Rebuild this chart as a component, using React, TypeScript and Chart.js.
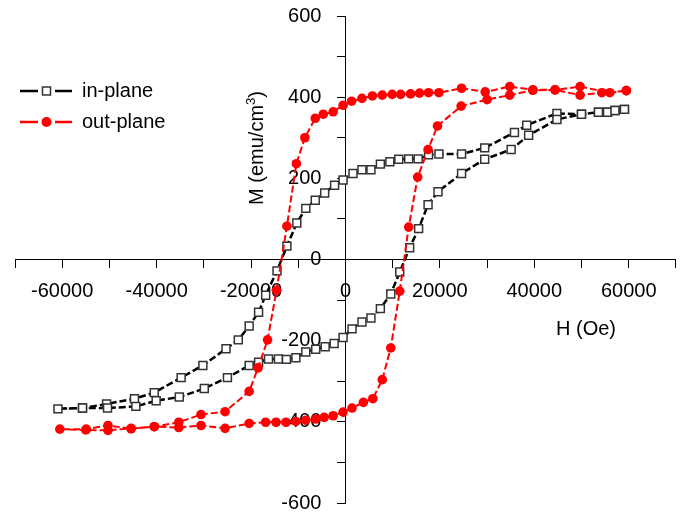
import React, { useEffect, useRef } from 'react';
import { Chart, registerables } from 'chart.js';

Chart.register(...registerables);

const FONT = "'Liberation Sans', Arial, Helvetica, sans-serif";

// Axis settings
const xMin = -70000;
const xMax = 70000;
const xStep = 10000;
const xLabelEvery = 20000;
const yMin = -600;
const yMax = 600;
const yStep = 100;
const yLabelEvery = 200;
// H value where the M tick labels are right-aligned (a little left of the M axis)
const yLabelAnchorH = -5100;

const xTitle = 'H (Oe)';
const yTitleMain = 'M (emu/cm';
const yTitleSup = '3';
const yTitleEnd = ')';

const seriesNames = ['in-plane', 'out-plane'];

// in-plane: descending branch (+H -> -H) then ascending branch (-H -> +H)
const inPlaneH = [
  59100, 57100, 55500, 53600, 50000, 44800, 38400, 35800, 29500, 24600,
  19800, 17600, 15400, 13400, 11300, 9400, 7400, 5400, 3500, 1600,
  -500, -2300, -4400, -6400, -8400, -10300, -12400, -14500, -16900, -18400,
  -20400, -22700, -25300, -30200, -34800, -40500, -44700, -50600, -55700, -60900,
  -55700, -50400, -44400, -40100, -35200, -29900, -25000, -20400, -18400, -16300,
  -14200, -12500, -10500, -8400, -6300, -4300, -2400, -500, 1400, 3500,
  5400, 7400, 9600, 11500, 13600, 15500, 17500, 19600, 24600, 29500,
  35100, 38800, 44800, 50000, 53600, 55500, 57100, 59100,
];
const inPlaneM = [
  370, 367, 363, 363, 358, 360, 331, 313, 275, 260,
  260, 258, 248, 248, 247, 241, 235, 221, 221, 212,
  196, 183, 164, 146, 126, 90, 33, -28, -88, -130,
  -164, -198, -220, -261, -291, -328, -343, -356, -366, -368,
  -366, -366, -362, -348, -339, -318, -291, -261, -253, -245,
  -245, -246, -242, -228, -221, -215, -207, -192, -171, -154,
  -144, -121, -85, -31, 29, 76, 135, 167, 212, 247,
  271, 306, 345, 358, 363, 363, 367, 370,
];

// out-plane: descending branch then ascending branch
const outPlaneH = [
  59500, 56000, 49700, 44400, 39700, 34800, 29600, 24600, 19800, 17600,
  15700, 13800, 11700, 9900, 7800, 5700, 3500, 1300, -500, -2600,
  -4700, -6400, -8600, -10400, -12400, -14600, -16500, -18500, -20400, -25500,
  -30600, -35300, -40500, -45400, -50300, -54900, -60500,
  -55000, -50300, -45400, -40500, -35300, -30600, -25500, -20400, -16900, -14700,
  -12600, -10500, -8400, -6300, -4500, -2600, -500, 1400, 3800, 5800,
  7800, 9600, 11500, 13400, 15300, 17500, 19500, 24500, 30000, 34800,
  39700, 44400, 49700, 54300, 59500,
];
const outPlaneM = [
  416, 411, 426, 418, 418, 426, 413, 422, 411, 411,
  410, 408, 407, 407, 405, 403, 397, 390, 380, 364,
  358, 348, 300, 236, 82, -76, -198, -267, -325, -375,
  -382, -401, -412, -417, -409, -418, -418,
  -420, -421, -416, -412, -414, -409, -416, -404, -401, -401,
  -401, -399, -396, -393, -389, -385, -376, -366, -352, -343,
  -296, -218, -78, 80, 203, 271, 329, 378, 394, 405,
  417, 418, 405, 411, 416,
];

const toPoints = (xs: number[], ys: number[]) => xs.map((x, i) => ({ x, y: ys[i] }));

const IN_COLOR = '#000000';
const IN_MARKER_BORDER = '#333333';
const OUT_COLOR = '#ff0000';

function drawSquare(ctx: CanvasRenderingContext2D, x: number, y: number) {
  ctx.fillStyle = '#ffffff';
  ctx.strokeStyle = IN_MARKER_BORDER;
  ctx.lineWidth = 1.5;
  ctx.beginPath();
  ctx.rect(x - 4, y - 4, 8, 8);
  ctx.fill();
  ctx.stroke();
}

function drawDot(ctx: CanvasRenderingContext2D, x: number, y: number) {
  ctx.fillStyle = OUT_COLOR;
  ctx.beginPath();
  ctx.arc(x, y, 5, 0, Math.PI * 2);
  ctx.fill();
}

const zeroFit = (horizontal: boolean) => (s: any) => {
  if (horizontal) s.height = 0;
  else s.width = 0;
  s.paddingLeft = 0;
  s.paddingRight = 0;
  s.paddingTop = 0;
  s.paddingBottom = 0;
};

const overlayPlugin = {
  id: 'overlay',
  afterDraw(chart: any) {
    const ctx: CanvasRenderingContext2D = chart.ctx;
    ctx.save();
    ctx.fillStyle = '#000';
    ctx.font = `20px ${FONT}`;

    // x axis title
    ctx.textAlign = 'center';
    ctx.textBaseline = 'middle';
    ctx.fillText(xTitle, 586, 329);

    // y axis title (rotated, with superscript)
    ctx.save();
    ctx.translate(256, 148);
    ctx.rotate(-Math.PI / 2);
    ctx.textAlign = 'left';
    ctx.textBaseline = 'alphabetic';
    const mainFont = `20px ${FONT}`;
    const supFont = `13px ${FONT}`;
    ctx.font = mainFont;
    const w1 = ctx.measureText(yTitleMain).width;
    const w3 = ctx.measureText(yTitleEnd).width;
    ctx.font = supFont;
    const w2 = ctx.measureText(yTitleSup).width;
    const total = w1 + w2 + w3;
    let cx = -total / 2;
    const base = 7;
    ctx.font = mainFont;
    ctx.fillText(yTitleMain, cx, base);
    cx += w1;
    ctx.font = supFont;
    ctx.fillText(yTitleSup, cx, base - 8);
    cx += w2;
    ctx.font = mainFont;
    ctx.fillText(yTitleEnd, cx, base);
    ctx.restore();

    // legend
    const rows = [91, 122];
    rows.forEach((ly, i) => {
      ctx.strokeStyle = i === 0 ? IN_COLOR : OUT_COLOR;
      ctx.lineWidth = 2.5;
      ctx.beginPath();
      ctx.moveTo(20, ly);
      ctx.lineTo(72, ly);
      ctx.stroke();
      ctx.fillStyle = '#fff';
      ctx.fillRect(38, ly - 6, 17, 12);
      if (i === 0) drawSquare(ctx, 46.5, ly);
      else drawDot(ctx, 46.5, ly);
      ctx.fillStyle = '#000';
      ctx.font = `20px ${FONT}`;
      ctx.textAlign = 'left';
      ctx.textBaseline = 'middle';
      ctx.fillText(seriesNames[i], 82, ly);
    });

    ctx.restore();
  },
};

export default function App() {
  const canvasRef = useRef<HTMLCanvasElement | null>(null);

  useEffect(() => {
    const canvas = canvasRef.current;
    if (!canvas) return;
    const tickFont = { family: FONT, size: 20 };
    const chart = new Chart(canvas, {
      type: 'scatter',
      data: {
        datasets: [
          {
            label: seriesNames[1],
            data: toPoints(outPlaneH, outPlaneM),
            showLine: true,
            borderColor: OUT_COLOR,
            borderWidth: 2,
            borderDash: [7, 3],
            backgroundColor: OUT_COLOR,
            pointStyle: 'circle',
            pointRadius: 4.8,
            pointBorderWidth: 0,
            pointBackgroundColor: OUT_COLOR,
            tension: 0,
            order: 0,
          },
          {
            label: seriesNames[0],
            data: toPoints(inPlaneH, inPlaneM),
            showLine: true,
            borderColor: IN_COLOR,
            borderWidth: 2.5,
            borderDash: [7, 3],
            backgroundColor: '#ffffff',
            pointStyle: 'rect',
            pointRadius: 5.6,
            pointBorderWidth: 1.5,
            pointBorderColor: IN_MARKER_BORDER,
            pointBackgroundColor: '#ffffff',
            tension: 0,
            order: 1,
          },
        ],
      },
      options: {
        animation: false,
        responsive: false,
        devicePixelRatio: 1,
        layout: { padding: { left: 15, right: 5, top: 16, bottom: 12 } },
        plugins: {
          legend: { display: false },
          tooltip: { enabled: false },
          title: { display: false },
        },
        scales: {
          x: {
            type: 'linear',
            position: { y: 0 },
            min: xMin,
            max: xMax,
            afterFit: zeroFit(true),
            ticks: {
              stepSize: xStep,
              autoSkip: false,
              maxRotation: 0,
              minRotation: 0,
              padding: 12,
              color: '#000',
              font: tickFont,
              callback: (v: any) => (Number(v) % xLabelEvery === 0 ? String(v) : ''),
            },
            grid: {
              drawOnChartArea: false,
              drawTicks: true,
              tickLength: 8,
              tickColor: '#000',
              tickWidth: 1,
            },
            border: { display: true, color: '#000', width: 1 },
          },
          y: {
            type: 'linear',
            position: { x: 0 },
            min: yMin,
            max: yMax,
            afterFit: zeroFit(false),
            ticks: {
              stepSize: yStep,
              autoSkip: false,
              display: false,
            },
            grid: {
              drawOnChartArea: false,
              drawTicks: true,
              tickLength: 8,
              tickColor: '#000',
              tickWidth: 1,
            },
            border: { display: true, color: '#000', width: 1 },
          },
          yLabels: {
            type: 'linear',
            axis: 'y',
            position: { x: yLabelAnchorH },
            min: yMin,
            max: yMax,
            afterFit: zeroFit(false),
            ticks: {
              stepSize: yLabelEvery,
              autoSkip: false,
              color: '#000',
              font: tickFont,
              callback: (v: any) => String(v),
            },
            grid: { display: false },
            border: { display: false },
          },
        },
      },
      plugins: [overlayPlugin],
    } as any);
    return () => chart.destroy();
  }, []);

  return (
    <div style={{ position: 'fixed', left: 0, top: 0, width: 683, height: 515, background: '#fff' }}>
      <canvas ref={canvasRef} width={683} height={515} style={{ width: 683, height: 515, display: 'block' }} />
    </div>
  );
}
